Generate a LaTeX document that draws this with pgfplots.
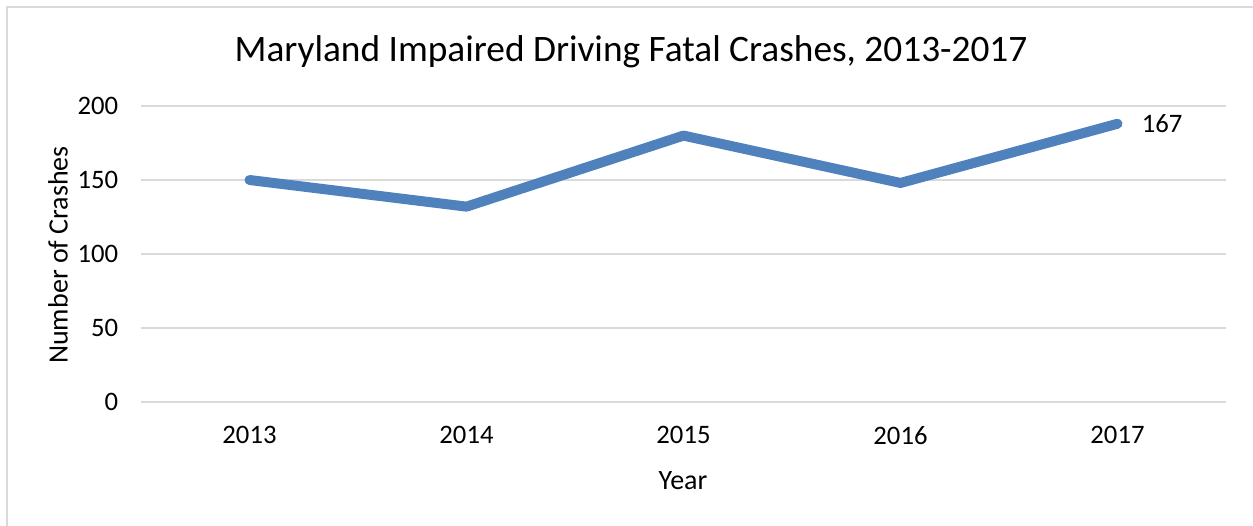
\documentclass[border=0pt]{standalone}
\usepackage{pgfplots}
\pgfplotsset{compat=1.18}
\usepackage{fontspec}
\setmainfont{Carlito}
\definecolor{lineblue}{RGB}{79,129,189}
\definecolor{gridgray}{RGB}{217,217,217}
\definecolor{bordergray}{RGB}{217,217,217}
\begin{document}
\begin{tikzpicture}
\useasboundingbox (0,0) rectangle (939.75pt,393.75pt);
\draw[bordergray,line width=1.5pt] ({7*0.75pt},-5pt) -- ({7*0.75pt},{518*0.75pt}) -- (945pt,{518*0.75pt});
\node[font=\fontsize{28}{32}\selectfont] at ({631*0.75pt},{(525-52)*0.75pt}) {Maryland Impaired Driving Fatal Crashes, 2013-2017};
\node[font=\fontsize{21}{25}\selectfont] at ({683*0.75pt},{(525-481)*0.75pt}) {Year};
\node[font=\fontsize{21}{25}\selectfont,rotate=90] at ({58*0.75pt},{(525-255)*0.75pt}) {Number of Crashes};
\begin{axis}[
  at={({141*0.75pt},{(525-402)*0.75pt})}, anchor=south west,
  scale only axis, width=813.75pt, height=222pt,
  xmin=-0.5, xmax=4.5, ymin=0, ymax=200,
  xtick={0,1,2,3,4}, xticklabels={2013,2014,2015,2016,2017},
  ytick={0,50,100,150,200},
  ymajorgrids, grid style={gridgray,line width=1.5pt},
  axis line style={draw=none}, major tick length=0pt,
  tick label style={font=\fontsize{20}{24}\selectfont},
  xticklabel style={anchor=north,inner sep=0pt,yshift=-18pt},
  yticklabel style={anchor=east,inner sep=0pt,xshift=-17pt},
  /pgf/number format/assume math mode=true,
  clip=false,
]
\addplot[lineblue,line width=7.5pt,line cap=round,line join=round] coordinates {
  (0,150) (1,132) (2,180) (3,148) (4,188)};
\node[anchor=west,inner sep=0pt,xshift=18pt,font=\fontsize{20}{24}\selectfont] at (axis cs:4,188) {167};
\end{axis}
\end{tikzpicture}
\end{document}
